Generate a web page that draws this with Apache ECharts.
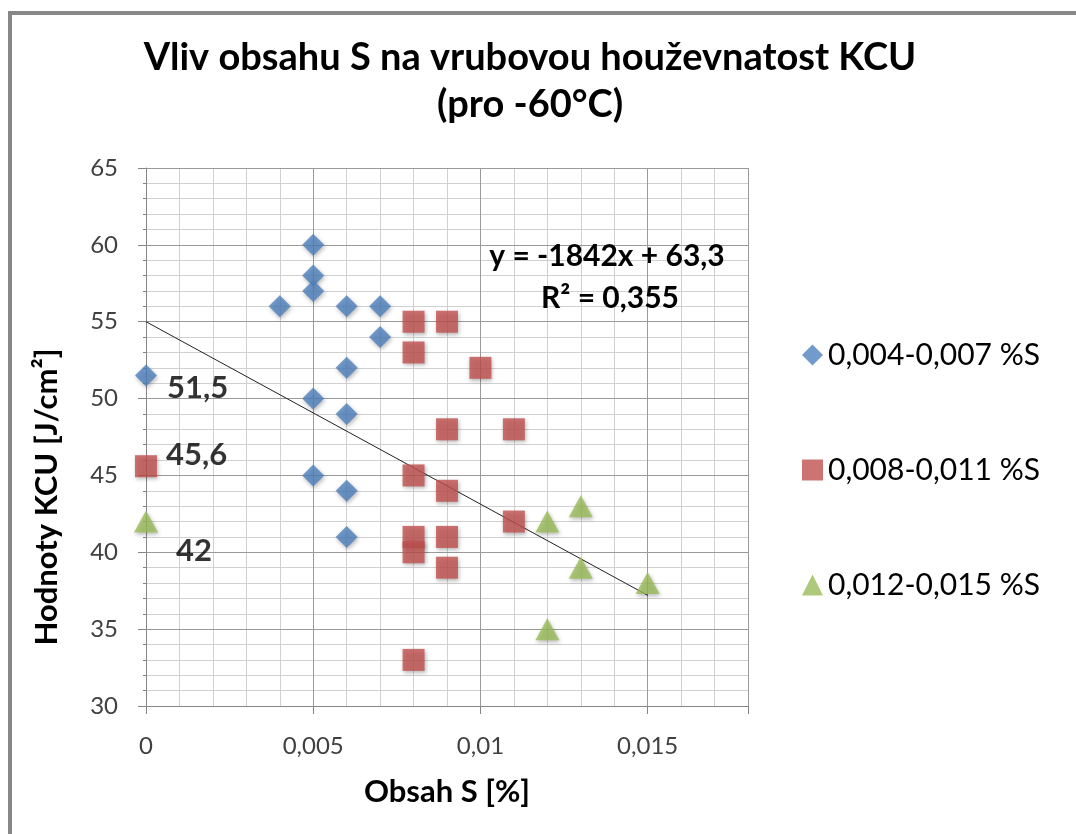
<!DOCTYPE html>
<html>
<head>
<meta charset="utf-8">
<script src="https://cdn.jsdelivr.net/npm/echarts@6/dist/echarts.min.js"></script>
<style>html,body{margin:0;padding:0;background:#fff;}#c{width:1076px;height:834px;}</style>
</head>
<body>
<div id="c"></div>
<script>
const seriesNames = ['0,004-0,007 %S', '0,008-0,011 %S', '0,012-0,015 %S'];
const blueX = [0, 0.005, 0.005, 0.005, 0.004, 0.006, 0.007, 0.007, 0.006, 0.005, 0.006, 0.005, 0.006, 0.006];
const blueY = [51.5, 60, 58, 57, 56, 56, 56, 54, 52, 50, 49, 45, 44, 41];
const redX = [0, 0.008, 0.009, 0.008, 0.010, 0.009, 0.011, 0.008, 0.009, 0.011, 0.008, 0.008, 0.009, 0.009, 0.008];
const redY = [45.6, 55, 55, 53, 52, 48, 48, 45, 44, 42, 41, 40, 41, 39, 33];
const greenX = [0, 0.012, 0.013, 0.013, 0.015, 0.012];
const greenY = [42, 42, 43, 39, 38, 35];
const trendX = [0, 0.015];
const trendY = [55, 37.2];
const xTicks = [0, 0.005, 0.01, 0.015];
const yTicks = [30, 35, 40, 45, 50, 55, 60, 65];

const FONT = 'Lato, "Open Sans", sans-serif';
const fmt = v => String(v).replace('.', ',');

function pts(xs, ys, labelOffset) {
  return xs.map((x, i) => {
    const d = { value: [x, ys[i]] };
    if (i === 0 && labelOffset) {
      d.label = {
        show: true, position: 'right', offset: labelOffset,
        formatter: p => fmt(p.value[1]),
        fontFamily: FONT, fontWeight: 'bold', fontSize: 31, color: '#000'
      };
    }
    return d;
  });
}

const shadow = { shadowBlur: 4, shadowColor: 'rgba(0,0,0,0.35)', shadowOffsetX: 1, shadowOffsetY: 2 };

const chart = echarts.init(document.getElementById('c'));
chart.setOption({
  backgroundColor: '#fff',
  animation: false,
  title: {
    text: 'Vliv obsahu S na vrubovou houževnatost KCU\n(pro -60°C)',
    left: 525, top: 29, textAlign: 'center',
    textStyle: { fontFamily: FONT, fontWeight: 'bold', fontSize: 38, lineHeight: 47, color: '#000' }
  },
  legend: {
    orient: 'vertical', left: 797, top: 335,
    itemWidth: 21, itemHeight: 21, itemGap: 85,
    textStyle: { fontFamily: FONT, fontSize: 30, lineHeight: 30, color: '#000' },
    data: [
      { name: seriesNames[0], icon: 'diamond' },
      { name: seriesNames[1], icon: 'rect' },
      { name: seriesNames[2], icon: 'triangle' }
    ]
  },
  grid: { left: 146, top: 168, width: 602, height: 538, containLabel: false },
  xAxis: [
    {
      type: 'value', min: 0, max: 0.018, interval: 0.005, z: 2,
      name: 'Obsah S [%]', nameLocation: 'middle', nameGap: 70,
      nameTextStyle: { fontFamily: FONT, fontWeight: 'bold', fontSize: 31, color: '#000' },
      axisLine: { show: true, lineStyle: { color: '#868686', width: 1 } },
      axisTick: { show: true, length: 8, lineStyle: { color: '#868686' } },
      axisLabel: {
        margin: 28, fontFamily: FONT, fontSize: 24, color: '#404040',
        formatter: v => (xTicks.indexOf(Math.round(v * 1000) / 1000) >= 0 ? fmt(Math.round(v * 1000) / 1000) : '')
      },
      splitLine: { show: true, lineStyle: { color: '#9a9a9a', width: 1 } }
    },
    {
      type: 'value', min: 0, max: 0.018, interval: 0.001, z: 1,
      axisLine: { show: false }, axisTick: { show: false }, axisLabel: { show: false },
      splitLine: { show: true, lineStyle: { color: '#d0d0d0', width: 1 } }
    }
  ],
  yAxis: [
    {
      type: 'value', min: 30, max: 65, interval: 5, z: 2,
      name: 'Hodnoty KCU [J/cm²]', nameLocation: 'middle', nameGap: 84,
      nameTextStyle: { fontFamily: FONT, fontWeight: 'bold', fontSize: 31, color: '#000', padding: [0, 120, 0, 0] },
      axisLine: { show: true, lineStyle: { color: '#868686', width: 1 } },
      axisTick: { show: true, length: 8, lineStyle: { color: '#868686' } },
      minorTick: { show: true, splitNumber: 5, length: 3, lineStyle: { color: '#868686' } },
      axisLabel: {
        margin: 28, fontFamily: FONT, fontSize: 24, color: '#404040',
        formatter: v => (yTicks.indexOf(v) >= 0 ? String(v) : '')
      },
      splitLine: { show: true, lineStyle: { color: '#9a9a9a', width: 1 } }
    },
    {
      type: 'value', min: 30, max: 65, interval: 1, z: 1, position: 'left',
      axisLine: { show: false }, axisTick: { show: false }, axisLabel: { show: false },
      splitLine: { show: true, lineStyle: { color: '#d0d0d0', width: 1 } }
    }
  ],
  series: [
    {
      name: 'trend', type: 'line', xAxisIndex: 0, yAxisIndex: 0,
      data: trendX.map((x, i) => [x, trendY[i]]),
      showSymbol: false, symbol: 'none', silent: true, z: 3,
      lineStyle: { color: '#222', width: 1 }
    },
    {
      name: seriesNames[0], type: 'scatter', xAxisIndex: 0, yAxisIndex: 0, clip: false, z: 4,
      symbol: 'diamond', symbolSize: 22,
      itemStyle: Object.assign({ color: '#4F81BD' }, shadow),
      data: pts(blueX, blueY, [5, 12])
    },
    {
      name: seriesNames[1], type: 'scatter', xAxisIndex: 0, yAxisIndex: 0, clip: false, z: 4,
      symbol: 'rect', symbolSize: 22,
      itemStyle: Object.assign({ color: '#C0504D' }, shadow),
      data: pts(redX, redY, [4, -11])
    },
    {
      name: seriesNames[2], type: 'scatter', xAxisIndex: 0, yAxisIndex: 0, clip: false, z: 4,
      symbol: 'triangle', symbolSize: [24, 22],
      itemStyle: Object.assign({ color: '#9BBB59' }, shadow),
      data: pts(greenX, greenY, [13, 29])
    }
  ],
  graphic: [
    {
      type: 'rect', z: 100, silent: true,
      shape: { x: 10, y: 13, width: 1200, height: 1000 },
      style: { fill: 'none', stroke: '#878787', lineWidth: 4 }
    },
    {
      type: 'text', x: 607, y: 256, z: 50,
      style: { text: 'y = -1842x + 63,3', align: 'center', verticalAlign: 'middle', fontFamily: FONT, fontWeight: 'bold', fontSize: 30, fill: '#000' }
    },
    {
      type: 'text', x: 610, y: 298, z: 50,
      style: { text: 'R² = 0,355', align: 'center', verticalAlign: 'middle', fontFamily: FONT, fontWeight: 'bold', fontSize: 30, fill: '#000' }
    }
  ]
});
</script>
</body>
</html>
